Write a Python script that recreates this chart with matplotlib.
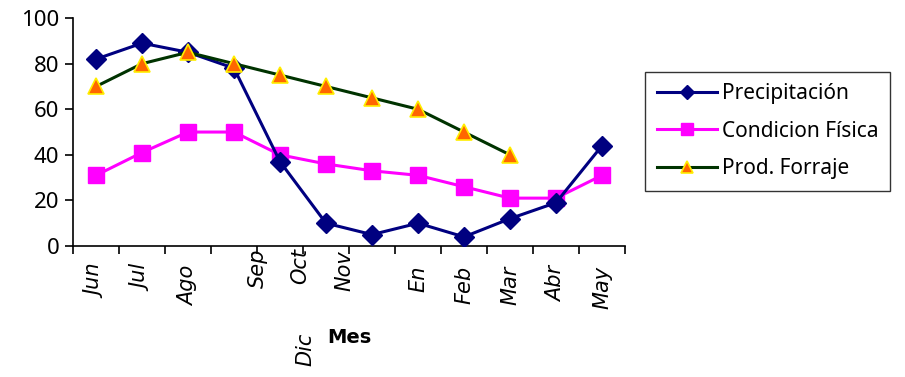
import numpy as np
import matplotlib.pyplot as plt
import matplotlib.transforms as mtransforms

meses = ['Jun', 'Jul', 'Ago', 'Sep', 'Oct', 'Nov', 'Dic', 'En', 'Feb', 'Mar', 'Abr', 'May']
precipitacion = [82, 89, 85, 78, 37, 10, 5, 10, 4, 12, 19, 44]
condicion = [31, 41, 50, 50, 40, 36, 33, 31, 26, 21, 21, 31]
forraje = [70, 80, 85, 80, 75, 70, 65, 60, 50, 40]

# desplazamiento raro de algunas etiquetas (px), como en la imagen original
label_dx = [0, 0, 0, 24, 20, 18, -67, 0, 0, 0, 0, 0]
label_dy = [0, 0, 0, 17, 17, 15, -67, 0, 0, 0, 0, 0]

fig = plt.figure(figsize=(9.05, 3.77), dpi=100)
ax = fig.add_axes([0.0807, 0.3475, 0.6099, 0.6045])

x = np.arange(len(meses))
ax.plot(x, precipitacion, color='#000080', lw=2.2, marker='D', ms=10,
        mfc='#000080', mec='#000080', label='Precipitación', zorder=3)
ax.plot(x, condicion, color='#FF00FF', lw=2.2, marker='s', ms=12,
        mfc='#FF00FF', mec='#FF00FF', label='Condicion Física', zorder=2)
ax.plot(x[:len(forraje)], forraje, color='#003300', lw=2.2, marker='^', ms=12,
        mfc='#FF6600', mec='#FFEE00', mew=1.2, label='Prod. Forraje', zorder=4)

ax.set_xlim(-0.5, len(meses) - 0.5)
ax.set_ylim(0, 100)
ax.set_yticks([0, 20, 40, 60, 80, 100])
ax.tick_params(axis='y', labelsize=16, length=6, width=1.2, pad=4)
for lab in ax.get_yticklabels():
    lab.set_family('Noto Sans')

ax.set_xticks(x)
ax.set_xticklabels(meses, rotation=90, fontsize=15, style='italic', va='top')
ax.set_xticks(np.arange(-0.5, len(meses)), minor=True)
ax.tick_params(axis='x', which='major', length=0, pad=14)
ax.tick_params(axis='x', which='minor', length=6, width=1.2)
for lab, dx, dy in zip(ax.get_xticklabels(), label_dx, label_dy):
    off = mtransforms.ScaledTranslation(dx / 100, dy / 100, fig.dpi_scale_trans)
    lab.set_transform(lab.get_transform() + off)

ax.spines['top'].set_visible(False)
ax.spines['right'].set_visible(False)
ax.spines['left'].set_linewidth(1.2)
ax.spines['bottom'].set_linewidth(1.2)

ax.set_xlabel('Mes', fontsize=14, fontweight='bold', family='DejaVu Sans')
ax.xaxis.set_label_coords(0.5, -0.36)

leg = fig.legend(loc='center left', bbox_to_anchor=(0.713, 0.652),
                 prop={'family': 'Noto Sans', 'size': 15}, frameon=True,
                 fancybox=False, edgecolor='black', handlelength=2.9,
                 handletextpad=0.25, borderpad=0.55, borderaxespad=0,
                 labelspacing=0.8, markerscale=0.75)
leg.get_frame().set_linewidth(1.0)

fig.savefig('out.png', dpi=100)
